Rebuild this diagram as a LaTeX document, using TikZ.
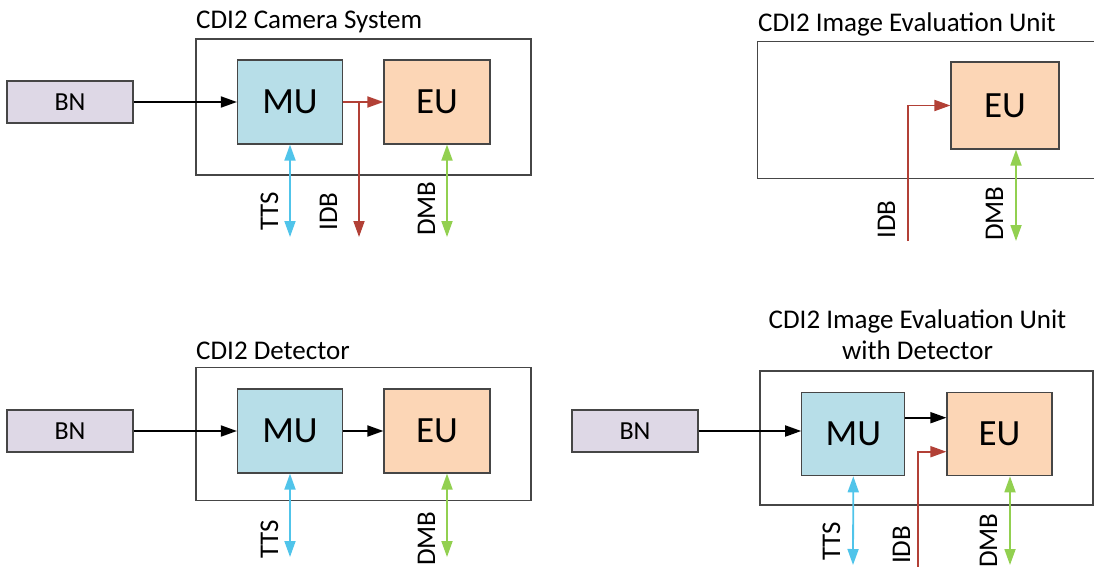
\documentclass[tikz,border=0pt]{standalone}
\usepackage{fontspec}
\setmainfont{Carlito}
\usetikzlibrary{arrows.meta}

\definecolor{bnfill}{RGB}{222,216,230}
\definecolor{mufill}{RGB}{183,222,232}
\definecolor{eufill}{RGB}{252,214,182}
\definecolor{edgegray}{RGB}{70,70,70}
\definecolor{ttscyan}{RGB}{80,196,234}
\definecolor{idbred}{RGB}{178,64,54}
\definecolor{dmbgreen}{RGB}{146,208,80}

\begin{document}
\begin{tikzpicture}[x=1pt,y=-1pt,>={Triangle[length=16pt,width=11pt]},
  unitbox/.style={draw=edgegray,line width=1.2pt,inner sep=0pt,minimum height=84pt},
  bnbox/.style={unitbox,fill=bnfill,minimum width=126pt,minimum height=42pt,font=\fontsize{26}{31}\selectfont},
  mubox/.style={unitbox,fill=mufill,minimum width=105pt,font=\fontsize{37}{44}\selectfont},
  eubox/.style={unitbox,fill=eufill,minimum width=106pt,font=\fontsize{37}{44}\selectfont},
  sysframe/.style={draw=edgegray,line width=1.2pt,inner sep=0pt},
  systitle/.style={inner sep=0pt,font=\fontsize{27}{31}\selectfont},
  buslabel/.style={rotate=90,anchor=base west,inner sep=0pt,font=\fontsize{27}{32}\selectfont},
  sig/.style={->,line width=1.8pt},
  tts/.style={<->,line width=1.8pt,ttscyan},
  idb/.style={->,line width=1.8pt,idbred},
  dmb/.style={<->,line width=1.8pt,dmbgreen}]
  \useasboundingbox (0,0) rectangle (1094,567);

  % CDI2 Camera System
  \node[sysframe,minimum width=335pt,minimum height=136pt] (frame1) at (363.5,107) {};
  \node[systitle,anchor=base west] (title1) at (196,29) {CDI2 Camera System};
  \node[bnbox] (bn1) at (70,102) {BN};
  \node[mubox] (mu1) at (290,102) {MU};
  \node[eubox] (eu1) at (437,102) {EU};
  \coordinate (tts1) at (290,237);
  \coordinate (idb1) at (359,237);
  \coordinate (dmb1) at (447,237);
  \draw[sig] (bn1) -- (mu1);
  \draw[idb] (mu1) -- (eu1);
  \draw[idb] (mu1.east -| idb1) -- (idb1);
  \draw[tts] (mu1.south) -- (tts1);
  \draw[dmb] (eu1.south -| dmb1) -- (dmb1);
  \node[buslabel] (ttslbl1) at (278,231) {TTS};
  \node[buslabel] (idblbl1) at (337,231) {IDB};
  \node[buslabel] (dmblbl1) at (435,236) {DMB};

  % CDI2 Image Evaluation Unit (frame runs off the right edge)
  \node[sysframe,minimum width=353pt,minimum height=137pt,anchor=north west] (frame2) at (757,41) {};
  \node[systitle,anchor=base west] (title2) at (758,31.5) {CDI2 Image Evaluation Unit};
  \node[eubox,minimum width=108pt,minimum height=87pt] (eu2) at (1005,105.5) {EU};
  \coordinate (idb2) at (908,241);
  \coordinate (dmb2) at (1016,241);
  \draw[idb] (idb2) |- (eu2.west);
  \draw[dmb] (eu2.south -| dmb2) -- (dmb2);
  \node[buslabel] (idblbl2) at (895,239) {IDB};
  \node[buslabel] (dmblbl2) at (1003,241) {DMB};

  % CDI2 Detector
  \node[sysframe,minimum width=335pt,minimum height=133pt] (frame3) at (363.5,434.2) {};
  \node[systitle,anchor=base west] (title3) at (196,359) {CDI2 Detector};
  \node[bnbox] (bn3) at (70,431) {BN};
  \node[mubox] (mu3) at (290,431) {MU};
  \node[eubox] (eu3) at (437,431) {EU};
  \coordinate (tts3) at (290,557);
  \coordinate (dmb3) at (447,557);
  \draw[sig] (bn3) -- (mu3);
  \draw[sig] (mu3) -- (eu3);
  \draw[tts] (mu3.south) -- (tts3);
  \draw[dmb] (eu3.south -| dmb3) -- (dmb3);
  \node[buslabel] (ttslbl3) at (278,559) {TTS};
  \node[buslabel] (dmblbl3) at (435,566) {DMB};

  % CDI2 Image Evaluation Unit with Detector
  \node[sysframe,minimum width=333pt,minimum height=134pt] (frame4) at (926.5,438) {};
  \node[systitle,align=center,anchor=base] (title4) at (917.5,359) {CDI2 Image Evaluation Unit\\with Detector};
  \node[bnbox] (bn4) at (635,431) {BN};
  \node[mubox,minimum width=103pt,minimum height=83pt] (mu4) at (853.3,434.2) {MU};
  \node[eubox,minimum width=105pt,minimum height=83pt] (eu4) at (999.5,434.2) {EU};
  \coordinate (tts4) at (853,565);
  \coordinate (idb4) at (918,567);
  \coordinate (dmb4) at (1010,565);
  \draw[sig] (bn4) -- (bn4 -| mu4.west);
  \draw[sig] ([yshift=16.5pt]mu4.east) -- ([yshift=16.5pt]eu4.west);
  \draw[idb] (idb4) |- ([yshift=-17.5pt]eu4.west);
  \draw[tts] (mu4.south) -- (tts4);
  \draw[dmb] (eu4.south -| dmb4) -- (dmb4);
  \node[buslabel] (ttslbl4) at (840,561) {TTS};
  \node[buslabel] (idblbl4) at (910,564) {IDB};
  \node[buslabel] (dmblbl4) at (997,568) {DMB};
\end{tikzpicture}
\end{document}
